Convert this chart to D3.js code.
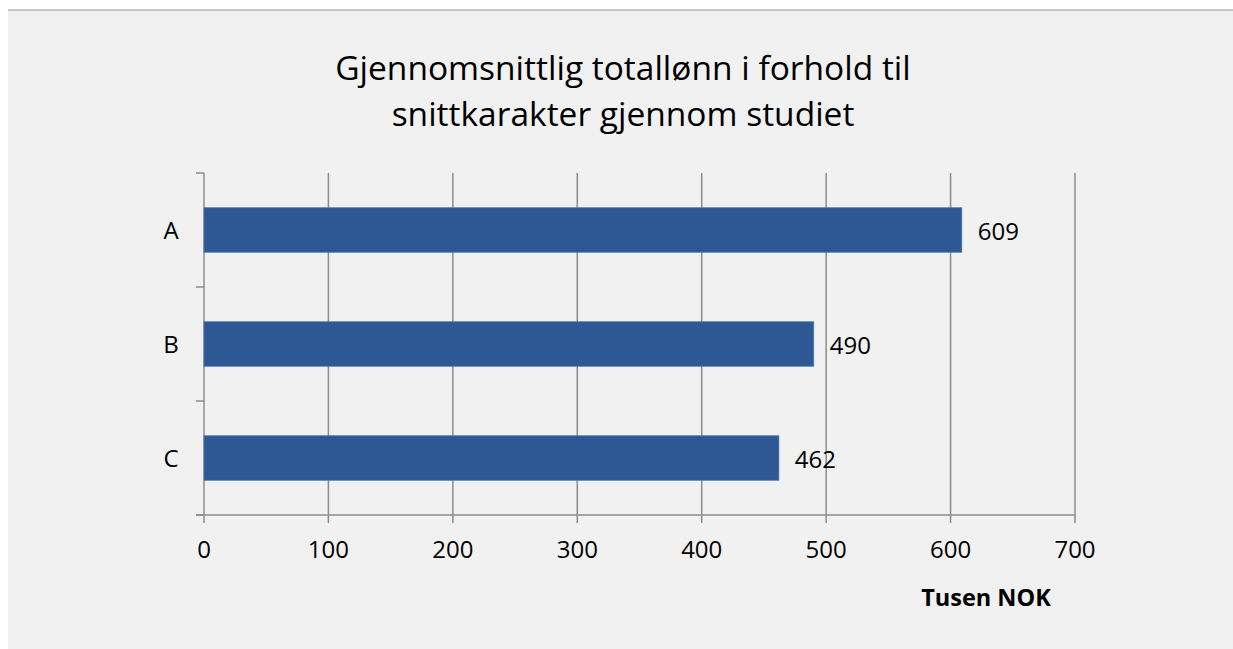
<!DOCTYPE html>
<html><head><meta charset="utf-8">
<script src="https://cdn.jsdelivr.net/npm/d3@7"></script>
<style>
html,body{margin:0;padding:0;background:#fff;}
svg{display:block;}
text{font-family:"Open Sans","Noto Sans",sans-serif;fill:#000;}
</style></head><body>
<script>
const categories = ["A", "B", "C"];
const values = [609, 490, 462];
const xTicks = [0, 100, 200, 300, 400, 500, 600, 700];
const titleLines = ["Gjennomsnittlig totallønn i forhold til", "snittkarakter gjennom studiet"];
const axisTitle = "Tusen NOK";

(function () {
const W = 1233, H = 649;
const svg = d3.select("body").append("svg").attr("width", W).attr("height", H);
svg.append("rect").attr("x", 8).attr("y", 9).attr("width", W - 8).attr("height", H - 9).attr("fill", "#f1f1f1");
svg.append("rect").attr("x", 8).attr("y", 9).attr("width", W - 8).attr("height", 2).attr("fill", "#c6c8c9");

const mLeft = 204, mRight = 1075, mTop = 173, mBottom = 515;
const x = d3.scaleLinear().domain([0, 700]).range([mLeft, mRight]);
const y = d3.scaleBand().domain(categories).range([mTop, mBottom]).paddingInner(0.61).paddingOuter(0.305);
const yb = d3.scaleBand().domain(categories).range([mTop, mBottom]);

const gridColor = "#8c8c8c";
svg.append("g").selectAll("line").data(xTicks).join("line")
  .attr("x1", d => x(d)).attr("x2", d => x(d)).attr("y1", mTop).attr("y2", mBottom + 8)
  .attr("stroke", gridColor).attr("stroke-width", 1.5);
svg.append("line").attr("x1", mLeft - 8).attr("x2", mRight).attr("y1", mBottom).attr("y2", mBottom)
  .attr("stroke", gridColor).attr("stroke-width", 1.5);
const yTickPos = categories.map(c => yb(c)).concat([mBottom]);
svg.append("g").selectAll("line").data(yTickPos).join("line")
  .attr("x1", mLeft - 8).attr("x2", mLeft).attr("y1", d => d).attr("y2", d => d)
  .attr("stroke", gridColor).attr("stroke-width", 1.5);

const data = categories.map((c, i) => ({c, v: values[i]}));
svg.append("g").selectAll("rect").data(data).join("rect")
  .attr("x", x(0)).attr("y", d => y(d.c)).attr("width", d => x(d.v) - x(0)).attr("height", y.bandwidth())
  .attr("fill", "#2e5894").attr("stroke", "#4a74ad").attr("stroke-width", 0.8);

svg.append("g").selectAll("text").data(data).join("text")
  .attr("x", d => x(d.v) + 16).attr("y", d => y(d.c) + y.bandwidth() / 2 + 10)
  .attr("font-size", 24).text(d => d.v);

svg.append("g").selectAll("text").data(categories).join("text")
  .attr("x", 171).attr("y", d => y(d) + y.bandwidth() / 2 + 9).attr("text-anchor", "middle")
  .attr("font-size", 24).text(d => d);

svg.append("g").selectAll("text").data(xTicks).join("text")
  .attr("x", d => x(d)).attr("y", 558).attr("text-anchor", "middle")
  .attr("font-size", 24).text(d => d);

svg.append("text").attr("x", 986).attr("y", 606).attr("text-anchor", "middle")
  .attr("font-size", 23.5).attr("font-weight", "bold").text(axisTitle);

svg.append("g").selectAll("text").data(titleLines).join("text")
  .attr("x", 623).attr("y", (d, i) => 80 + i * 46).attr("text-anchor", "middle")
  .attr("font-size", 33.5).text(d => d);
})();
</script>
</body></html>
